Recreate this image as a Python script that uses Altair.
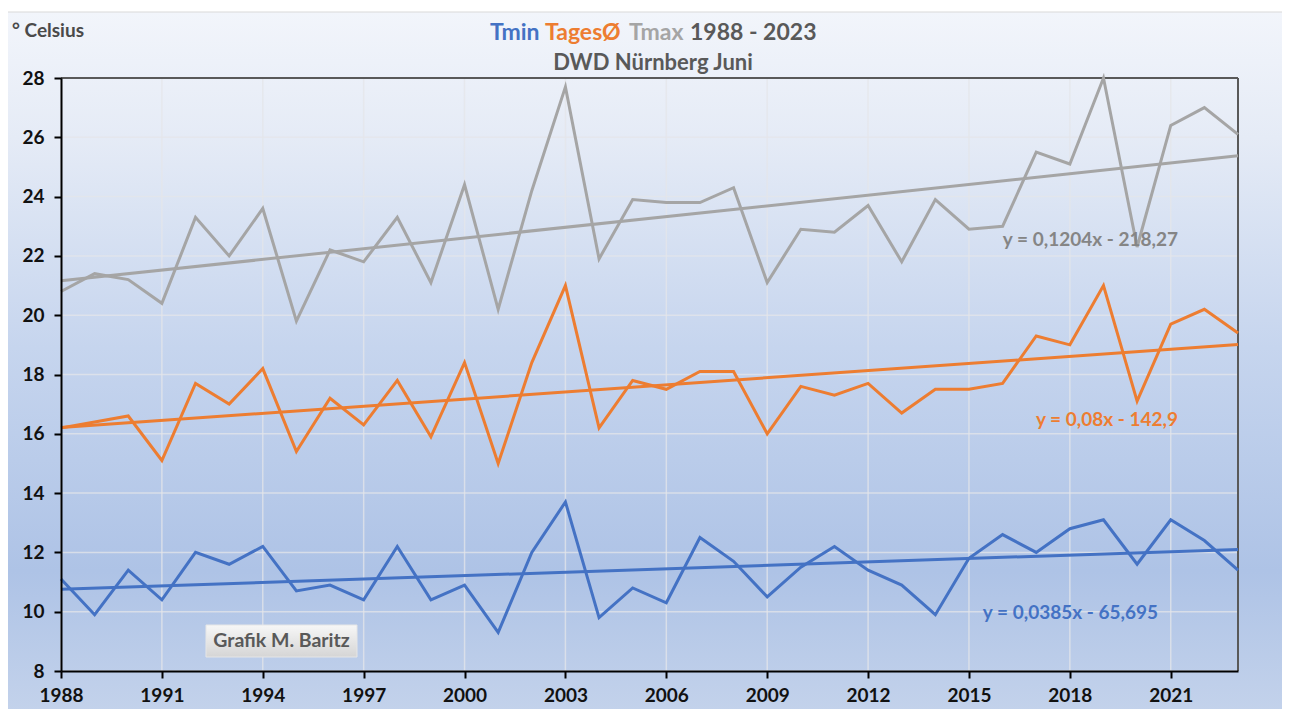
import altair as alt
import pandas as pd

# ---------------- data ----------------
years = list(range(1988, 2024))
tmin = [11.1, 9.9, 11.4, 10.4, 12.0, 11.6, 12.2, 10.7, 10.9, 10.4,
        12.2, 10.4, 10.9, 9.3, 12.0, 13.7, 9.8, 10.8, 10.3, 12.5,
        11.7, 10.5, 11.5, 12.2, 11.4, 10.9, 9.9, 11.8, 12.6, 12.0,
        12.8, 13.1, 11.6, 13.1, 12.4, 11.4]
tmittel = [16.2, 16.4, 16.6, 15.1, 17.7, 17.0, 18.2, 15.4, 17.2, 16.3,
           17.8, 15.9, 18.4, 15.0, 18.4, 21.0, 16.2, 17.8, 17.5, 18.1,
           18.1, 16.0, 17.6, 17.3, 17.7, 16.7, 17.5, 17.5, 17.7, 19.3,
           19.0, 21.0, 17.1, 19.7, 20.2, 19.4]
tmax = [20.8, 21.4, 21.2, 20.4, 23.3, 22.0, 23.6, 19.8, 22.2, 21.8,
        23.3, 21.1, 24.4, 20.2, 24.2, 27.7, 21.9, 23.9, 23.8, 23.8,
        24.3, 21.1, 22.9, 22.8, 23.7, 21.8, 23.9, 22.9, 23.0, 25.5,
        25.1, 28.0, 22.3, 26.4, 27.0, 26.1]

series_names = ["Tmin", "TagesØ", "Tmax"]
series_colors = ["#4472c4", "#ed7d31", "#a5a5a5"]
equations = ["y = 0,0385x - 65,695", "y = 0,08x - 142,9", "y = 0,1204x - 218,27"]
eq_colors = ["#4472c4", "#ed7d31", "#858585"]
title_parts = ["Tmin", "TagesØ", "Tmax", "1988 - 2023"]
title_colors = ["#4472c4", "#ed7d31", "#a5a5a5", "#595959"]
subtitle = "DWD Nürnberg Juni"
unit_label = "° Celsius"
credit = "Grafik M. Baritz"
y_ticks = list(range(8, 29, 2))
x_ticks = list(range(1988, 2022, 3))

rows = []
for name, vals in zip(series_names, [tmin, tmittel, tmax]):
    for yr, v in zip(years, vals):
        rows.append({"year": yr, "value": v, "series": name})
df = pd.DataFrame(rows)

# ---------------- layout ----------------
W, H = 1177, 593
FONT = "Lato"
one = pd.DataFrame({"k": [0]})

xscale = alt.Scale(domain=[1988, 2023], nice=False, zero=False)
yscale = alt.Scale(domain=[8, 28], nice=False, zero=False)
xaxis = alt.Axis(values=x_ticks, format="d", grid=False, title=None,
                 domainColor="black", domainWidth=2, tickColor="black",
                 tickWidth=2, tickSize=7, labelFont=FONT, labelFontSize=19,
                 labelFontWeight="bold", labelColor="#111111", labelPadding=8,
                 labelFlush=False, zindex=1)
yaxis = alt.Axis(values=y_ticks, grid=False, title=None,
                 domainColor="black", domainWidth=2, tickColor="black",
                 tickWidth=2, tickSize=7, labelFont=FONT, labelFontSize=19,
                 labelFontWeight="bold", labelColor="#111111", labelPadding=10,
                 labelFlush=False, zindex=1)
color_scale = alt.Scale(domain=series_names, range=series_colors)

bg = alt.Chart(one).mark_rect(
    fill=alt.LinearGradient(
        gradient="linear", x1=0, x2=0, y1=0, y2=1,
        stops=[alt.GradientStop(color="#f2f5fb", offset=0),
               alt.GradientStop(color="#e5ebf6", offset=0.18),
               alt.GradientStop(color="#c6d5ee", offset=0.48),
               alt.GradientStop(color="#aec3e6", offset=0.8),
               alt.GradientStop(color="#c3d2eb", offset=1)]),
    stroke="#d9d9d9", strokeWidth=1
).encode(x=alt.value(-55), x2=alt.value(W + 52), y=alt.value(-66), y2=alt.value(H + 40))

xgrid = alt.Chart(pd.DataFrame({"year": x_ticks})).mark_rule(
    color="#e4e6ea", strokeWidth=1.5, opacity=0.75
).encode(x=alt.X("year:Q", scale=xscale, axis=xaxis))
ygrid = alt.Chart(pd.DataFrame({"value": y_ticks})).mark_rule(
    color="#e4e6ea", strokeWidth=1.5, opacity=0.75
).encode(y=alt.Y("value:Q", scale=yscale, axis=yaxis))

top_border = alt.Chart(one).mark_rule(color="#595959", strokeWidth=2).encode(
    x=alt.value(0), x2=alt.value(W), y=alt.value(0))
right_border = alt.Chart(one).mark_rule(color="#595959", strokeWidth=2).encode(
    x=alt.value(W), y=alt.value(0), y2=alt.value(H))

credit_box = alt.Chart(one).mark_rect(
    fill=alt.LinearGradient(
        gradient="linear", x1=0, x2=0, y1=0, y2=1,
        stops=[alt.GradientStop(color="#f7f7f7", offset=0),
               alt.GradientStop(color="#d5d5d5", offset=1)]),
    stroke="#e6e6e6", strokeWidth=1
).encode(x=alt.value(145), x2=alt.value(296), y=alt.value(547), y2=alt.value(579))
credit_text = alt.Chart(one).mark_text(
    text=credit, font=FONT, fontSize=19.5, fontWeight="bold", color="#595959",
    align="center", baseline="middle"
).encode(x=alt.value(220.5), y=alt.value(563))

lines = alt.Chart(df).mark_line(strokeWidth=3).encode(
    x=alt.X("year:Q", scale=xscale, axis=xaxis),
    y=alt.Y("value:Q", scale=yscale, axis=yaxis),
    color=alt.Color("series:N", scale=color_scale, legend=None),
    detail="series:N",
)
trends = alt.Chart(df).transform_regression(
    "year", "value", groupby=["series"], extent=[1988, 2023]
).mark_line(strokeWidth=3).encode(
    x=alt.X("year:Q", scale=xscale, axis=xaxis),
    y=alt.Y("value:Q", scale=yscale, axis=yaxis),
    color=alt.Color("series:N", scale=color_scale, legend=None),
)

eq_pos = [(1097, 535), (1117, 342), (1117, 162)]
eq_layers = []
for txt, col, (px, py) in zip(equations, eq_colors, eq_pos):
    eq_layers.append(alt.Chart(one).mark_text(
        text=txt, font=FONT, fontSize=19, fontWeight="bold", color=col,
        align="right", baseline="middle").encode(x=alt.value(px), y=alt.value(py)))

title_x = [429, 484, 568, 629]
title_layers = []
for txt, col, px in zip(title_parts, title_colors, title_x):
    title_layers.append(alt.Chart(one).mark_text(
        text=txt, font=FONT, fontSize=23, fontWeight="bold", color=col,
        align="left", baseline="middle").encode(x=alt.value(px), y=alt.value(-45)))

sub = alt.Chart(one).mark_text(
    text=subtitle, font=FONT, fontSize=22, fontWeight="bold", color="#595959",
    align="center", baseline="middle").encode(x=alt.value(592), y=alt.value(-15))
unit = alt.Chart(one).mark_text(
    text=unit_label, font=FONT, fontSize=19, fontWeight="bold", color="#4a4a4a",
    align="left", baseline="middle").encode(x=alt.value(-49), y=alt.value(-47))

chart = alt.layer(
    bg, xgrid, ygrid, top_border, right_border, credit_box, credit_text,
    lines, trends, *eq_layers, *title_layers, sub, unit
).properties(
    width=W, height=H,
    padding={"left": 53, "top": 70, "right": 44, "bottom": 38},
    autosize=alt.AutoSizeParams(type="none"),
    background="white",
).configure_view(stroke=None)

chart.save("out.html", embed_options={"renderer": "svg", "actions": False})
